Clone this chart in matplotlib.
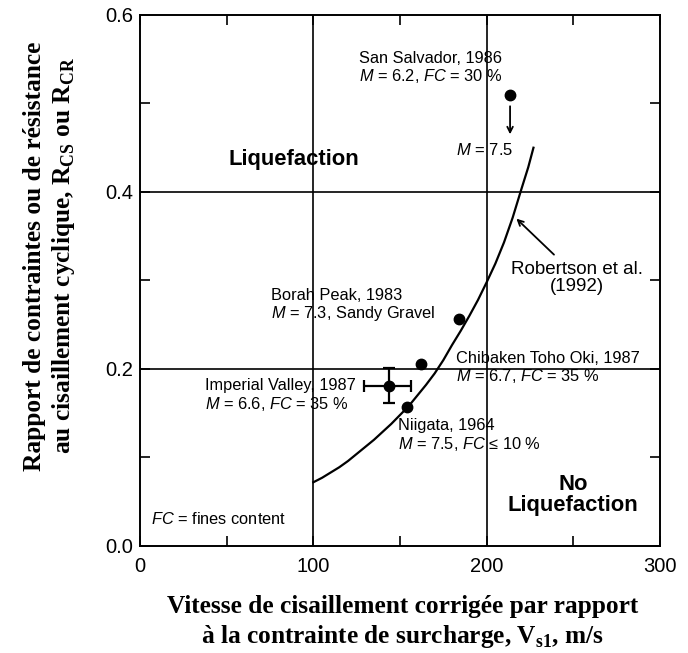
import matplotlib
matplotlib.use("Agg")
import matplotlib.pyplot as plt
from matplotlib.ticker import MultipleLocator

plt.rcParams["font.family"] = ["Liberation Sans", "DejaVu Sans"]
plt.rcParams["mathtext.fontset"] = "custom"
plt.rcParams["mathtext.rm"] = "Liberation Sans"
plt.rcParams["mathtext.it"] = "Liberation Sans:italic"
plt.rcParams["mathtext.bf"] = "Liberation Serif:bold"

# ── case histories (Vs1 in m/s, CSR) ─────────────────────────
site_names = ["San Salvador", "Borah Peak", "Chibaken Toho Oki", "Imperial Valley", "Niigata"]
site_vs1 = [213.5, 184.0, 162.0, 143.5, 154.0]
site_crr = [0.510, 0.256, 0.206, 0.181, 0.157]

# Imperial Valley error bars
iv_xerr = [[14.0], [12.6]]
iv_yerr = [[0.020], [0.020]]

# Robertson et al. (1992) boundary
curve_vs1 = [100, 105, 110, 115, 120, 125, 130, 135, 140, 145, 150, 155, 160, 165, 170,
             175, 180, 185, 190, 195, 200, 205, 210, 215, 220, 224, 227]
curve_crr = [0.072, 0.077, 0.083, 0.089, 0.096, 0.104, 0.112, 0.120, 0.129, 0.138,
             0.148, 0.158, 0.170, 0.182, 0.195, 0.210, 0.227, 0.243, 0.260, 0.278,
             0.298, 0.319, 0.343, 0.371, 0.403, 0.428, 0.450]

x_ticks = [0, 100, 200, 300]
y_ticks = [0.0, 0.2, 0.4, 0.6]

fig = plt.figure(figsize=(6.88, 6.53), dpi=100)
ax = fig.add_axes([0.2035, 0.1639, 0.7558, 0.8132])

ax.set_xlim(0, 300)
ax.set_ylim(0, 0.6)
ax.set_xticks(x_ticks)
ax.set_yticks(y_ticks)
ax.set_xticklabels([str(v) for v in x_ticks])
ax.set_yticklabels([f"{v:.1f}" for v in y_ticks])
ax.xaxis.set_minor_locator(MultipleLocator(50))
ax.yaxis.set_minor_locator(MultipleLocator(0.1))
ax.tick_params(which="both", direction="in", top=True, right=True,
               length=7, width=1.2, labelsize=14.5)
ax.tick_params(axis="x", pad=8)
ax.tick_params(axis="y", pad=5)
for sp in ax.spines.values():
    sp.set_linewidth(1.4)

for xv in (100, 200):
    ax.axvline(xv, color="black", lw=1.2, zorder=1)
for yv in (0.2, 0.4):
    ax.axhline(yv, color="black", lw=1.2, zorder=1)

ax.plot(curve_vs1, curve_crr, color="black", lw=1.6, zorder=2)

ax.plot(site_vs1, site_crr, "o", color="black", ms=7.5, zorder=3)
ax.errorbar(site_vs1[3], site_crr[3], xerr=iv_xerr, yerr=iv_yerr,
            fmt="none", ecolor="black", elinewidth=1.6, capsize=4, capthick=1.6, zorder=3)

# San Salvador magnitude correction arrow
ax.annotate("", xy=(site_vs1[0], 0.462), xytext=(site_vs1[0], 0.500),
            arrowprops=dict(arrowstyle="->", color="black", lw=1.3))
ax.text(215.5, 0.447, "$\\mathit{M}$ = 7.5", ha="right", va="center", fontsize=12)

# Robertson pointer
ax.annotate("", xy=(216.0, 0.372), xytext=(240.0, 0.327),
            arrowprops=dict(arrowstyle="->", color="black", lw=1.3))
ax.text(252, 0.303, "Robertson et al.\n(1992)", ha="center", va="center",
        fontsize=13.5, linespacing=1.0)

fs = 11.8
ls = 1.1
ax.text(126.6, 0.540, "San Salvador, 1986\n$\\mathit{M}$ = 6.2, $\\mathit{FC}$ = 30 %",
        ha="left", va="center", fontsize=fs, linespacing=ls)
ax.text(75.5, 0.272, "Borah Peak, 1983\n$\\mathit{M}$ = 7.3, Sandy Gravel",
        ha="left", va="center", fontsize=fs, linespacing=ls)
ax.text(182.2, 0.201, "Chibaken Toho Oki, 1987\n$\\mathit{M}$ = 6.7, $\\mathit{FC}$ = 35 %",
        ha="left", va="center", fontsize=fs, linespacing=ls)
ax.text(37.7, 0.170, "Imperial Valley, 1987\n$\\mathit{M}$ = 6.6, $\\mathit{FC}$ = 35 %",
        ha="left", va="center", fontsize=fs, linespacing=ls)
ax.text(149.0, 0.125, "Niigata, 1964\n$\\mathit{M}$ = 7.5, $\\mathit{FC}$ ≤ 10 %",
        ha="left", va="center", fontsize=fs, linespacing=ls)
ax.text(6.2, 0.031, "$\\mathit{FC}$ = fines content", ha="left", va="center", fontsize=fs)

ax.text(50.8, 0.437, "Liquefaction", ha="left", va="center",
        fontsize=15.8, fontweight="bold")
ax.text(250, 0.058, "No\nLiquefaction", ha="center", va="center",
        fontsize=15.8, fontweight="bold", linespacing=1.0)

serif = ["Liberation Serif", "DejaVu Serif"]
fig.text(0.073, 0.608,
         "Rapport de contraintes ou de résistance\n"
         "au cisaillement cyclique, $\\mathbf{R}_{\\mathbf{CS}}$ ou $\\mathbf{R}_{\\mathbf{CR}}$",
         rotation=90, ha="center", va="center", fontsize=18.3, fontweight="bold",
         family=serif, linespacing=1.2)
fig.text(0.585, 0.046,
         "Vitesse de cisaillement corrigée par rapport\n"
         "à la contrainte de surcharge, $\\mathbf{V}_{\\mathbf{s1}}$, m/s",
         ha="center", va="center", fontsize=18.3, fontweight="bold",
         family=serif, linespacing=1.25)

fig.savefig("out.png", dpi=100)
